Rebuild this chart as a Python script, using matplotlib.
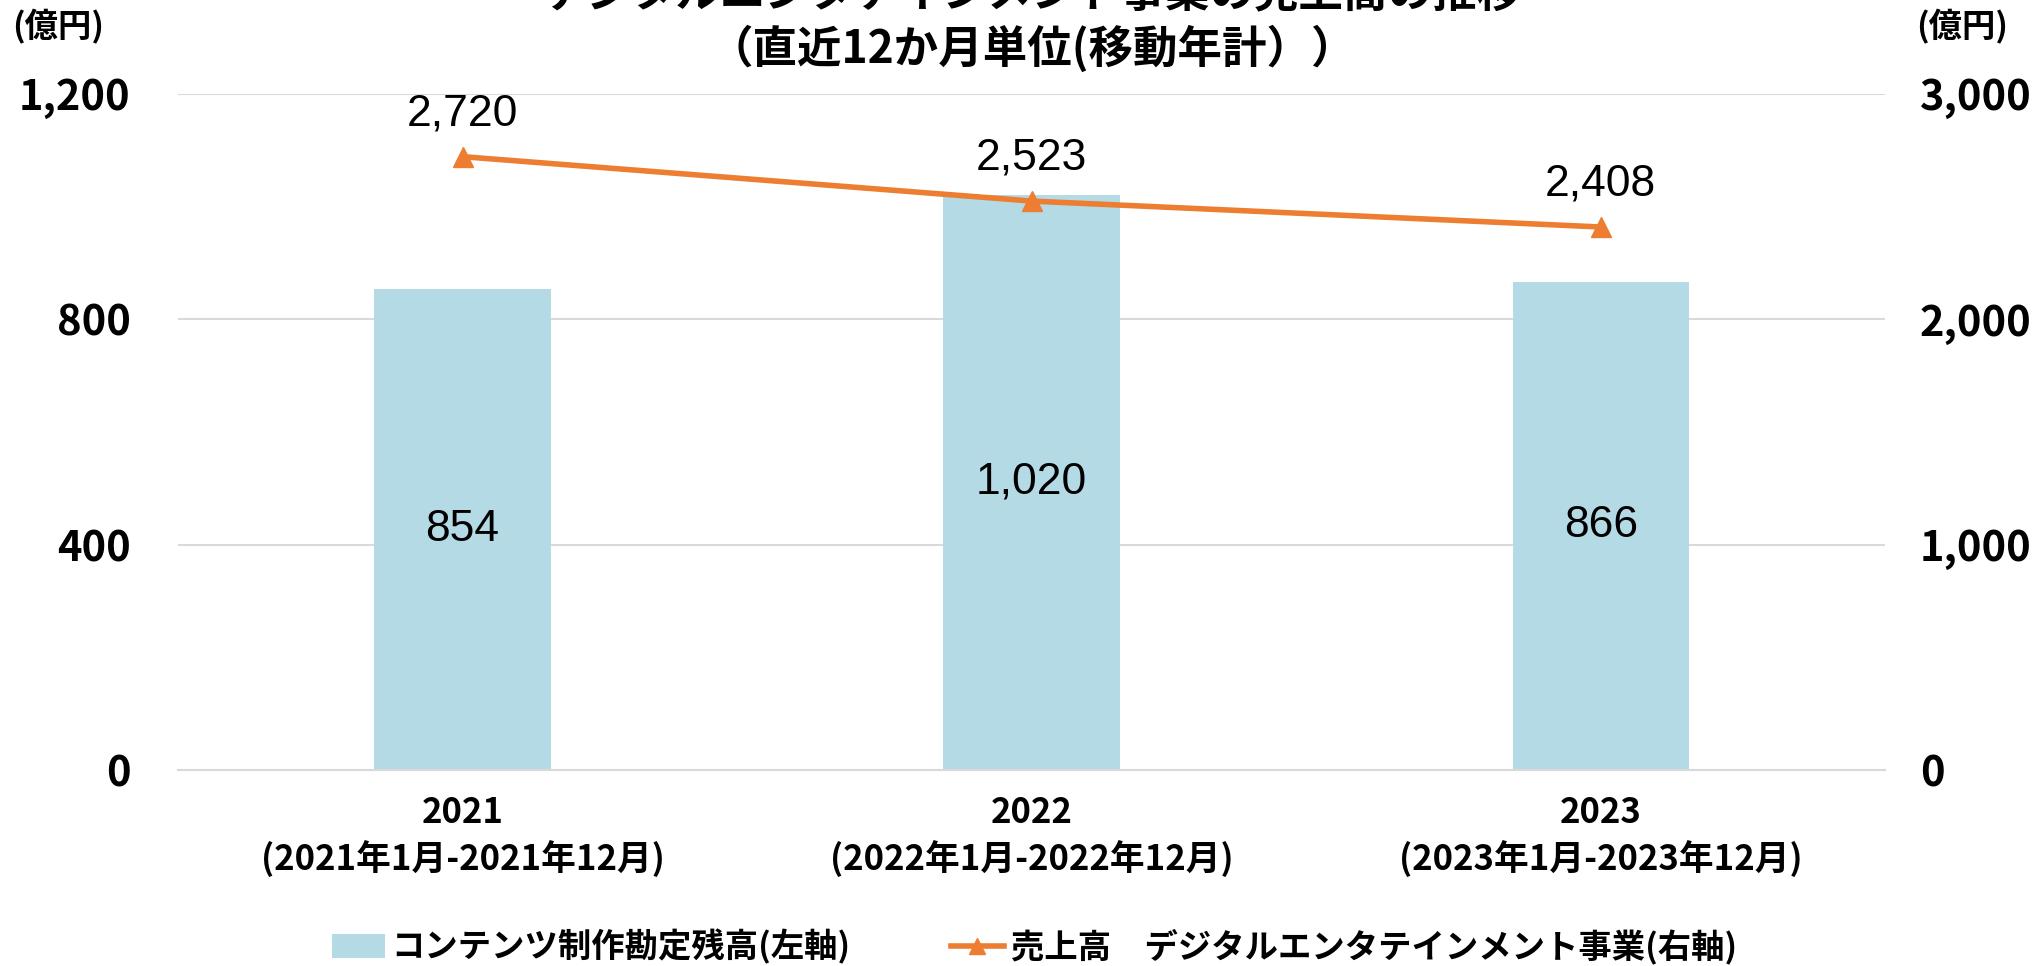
import numpy as np
import matplotlib.pyplot as plt
from matplotlib.lines import Line2D
from matplotlib.patches import Patch

plt.rcParams['font.family'] = ['Noto Sans CJK JP', 'DejaVu Sans']

years = ['2021', '2022', '2023']
periods = ['(2021年1月-2021年12月)', '(2022年1月-2022年12月)', '(2023年1月-2023年12月)']
content_balance = [854, 1020, 866]      # 左軸
sales_digital = [2720, 2523, 2408]       # 右軸

bar_color = '#B4DAE6'
line_color = '#ED7D31'
grid_color = '#D9D9D9'

fig = plt.figure(figsize=(20.36, 9.66), dpi=100)
ax = fig.add_axes([0.0874, 0.2029, 0.8386, 0.7003])
ax2 = ax.twinx()

x = np.arange(len(years))
ax.bar(x, content_balance, width=0.31, color=bar_color, zorder=2)
ax.set_xlim(-0.5, len(years) - 0.5)
ax.set_ylim(0, 1200)
ax.set_yticks([0, 400, 800, 1200])
ax.set_yticklabels([f'{v:,}' for v in [0, 400, 800, 1200]])
ax.yaxis.grid(True, color=grid_color, linewidth=1.5, zorder=0)
ax.set_axisbelow(True)
for s in ['top', 'left', 'right']:
    ax.spines[s].set_visible(False)
ax.spines['bottom'].set_color(grid_color)
ax.spines['bottom'].set_linewidth(1.5)
ax.tick_params(axis='y', length=0, pad=34, labelsize=30)
ax.tick_params(axis='x', length=0, pad=18, labelsize=25)
ax.set_xticks(x)
ax.set_xticklabels([f'{y}\n{p}' for y, p in zip(years, periods)],
                   fontweight='bold', linespacing=1.35)
for lab in ax.get_yticklabels():
    lab.set_fontweight('bold')

for xi, v in zip(x, content_balance):
    ax.text(xi, v / 2, f'{v:,}', ha='center', va='center', fontsize=32,
            family='Liberation Sans', color='black', zorder=3)

ax2.plot(x, sales_digital, color=line_color, linewidth=4, marker='^',
         markersize=14, zorder=4)
ax2.set_ylim(0, 3000)
ax2.set_yticks([0, 1000, 2000, 3000])
ax2.set_yticklabels([f'{v:,}' for v in [0, 1000, 2000, 3000]])
ax2.tick_params(axis='y', length=0, pad=25, labelsize=30)
for lab in ax2.get_yticklabels():
    lab.set_fontweight('bold')
for s in ['top', 'left', 'right', 'bottom']:
    ax2.spines[s].set_visible(False)

for xi, v in zip(x, sales_digital):
    ax2.text(xi, v + 190, f'{v:,}', ha='center', va='center', fontsize=32,
             family='Liberation Sans', color='black')

fig.text(0.507, 1.006, 'デジタルエンタテインメント事業の売上高の推移', ha='center',
         va='center', fontsize=32, fontweight='bold')
fig.text(0.507, 0.949, '（直近12か月単位(移動年計））', ha='center', va='center',
         fontsize=32, fontweight='bold')
fig.text(0.006, 0.972, '(億円)', ha='left', va='center', fontsize=24, fontweight='bold')
fig.text(0.941, 0.972, '(億円)', ha='left', va='center', fontsize=24, fontweight='bold')

handles = [Patch(facecolor=bar_color, edgecolor='none'),
           Line2D([0], [0], color=line_color, linewidth=4, marker='^', markersize=12)]
labels = ['コンテンツ制作勘定残高(左軸)', '売上高　デジタルエンタテインメント事業(右軸)']
leg = fig.legend(handles, labels, loc='center', bbox_to_anchor=(0.508, 0.02), ncol=2,
                 frameon=False, columnspacing=3, handlelength=1.6, handletextpad=0.2,
                 prop={'size': 24, 'weight': 'bold'})

fig.savefig('out.png', dpi=100)
